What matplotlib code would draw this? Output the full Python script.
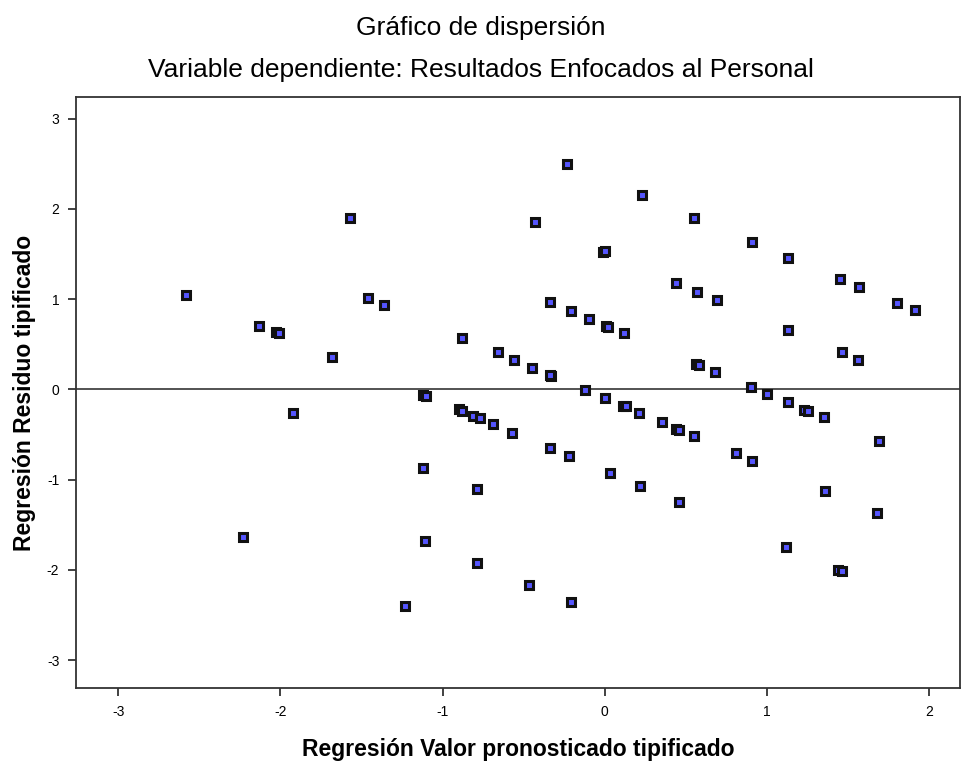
import matplotlib
matplotlib.use("Agg")
import matplotlib.pyplot as plt

plt.rcParams['font.family'] = ['Liberation Sans', 'DejaVu Sans']

title = "Gráfico de dispersión"
subtitle = "Variable dependiente: Resultados Enfocados al Personal"
xlabel = "Regresión Valor pronosticado tipificado"
ylabel = "Regresión Residuo tipificado"

pred = [-2.58, -2.23, -2.13, -2.03, -2.01, -1.92, -1.68, -1.57, -1.46, -1.36,
        -1.23, -1.12, -1.10, -1.12, -1.11, -0.88, -0.90, -0.88, -0.81, -0.77,
        -0.69, -0.66, -0.79, -0.79, -0.56, -0.57, -0.45, -0.33, -0.34, -0.47,
        -0.43, -0.34, -0.34, -0.23, -0.22, -0.21, -0.21, -0.10, -0.12, -0.01,
        0.00, 0.01, 0.02, 0.00, 0.03, 0.12, 0.11, 0.13, 0.21, 0.22,
        0.23, 0.35, 0.44, 0.44, 0.46, 0.46, 0.55, 0.57, 0.56, 0.58,
        0.55, 0.69, 0.68, 0.81, 0.90, 0.91, 0.91, 1.00, 1.13, 1.13,
        1.13, 1.12, 1.23, 1.25, 1.35, 1.36, 1.45, 1.46, 1.44, 1.46,
        1.57, 1.56, 1.69, 1.68, 1.80, 1.91]
resid = [1.05, -1.64, 0.70, 0.63, 0.62, -0.26, 0.36, 1.90, 1.01, 0.93,
         -2.40, -0.06, -0.07, -0.87, -1.68, 0.57, -0.22, -0.24, -0.29, -0.32,
         -0.38, 0.41, -1.11, -1.92, 0.32, -0.48, 0.24, 0.15, 0.16, -2.17,
         1.85, -0.65, 0.97, 2.50, -0.74, -2.36, 0.87, 0.78, -0.01, 1.52,
         1.53, 0.70, 0.69, -0.10, -0.93, 0.62, -0.18, -0.19, -0.26, -1.07,
         2.15, -0.36, 1.18, -0.44, -0.45, -1.25, 1.90, 1.08, 0.28, 0.27,
         -0.52, 0.99, 0.19, -0.71, 0.03, 1.63, -0.79, -0.05, 1.46, 0.66,
         -0.14, -1.75, -0.23, -0.24, -0.31, -1.13, 1.22, 0.41, -2.00, -2.01,
         1.13, 0.33, -0.57, -1.37, 0.96, 0.88]

xticks = [-3, -2, -1, 0, 1, 2]
yticks = [-3, -2, -1, 0, 1, 2, 3]

fig = plt.figure(figsize=(9.61, 7.64), dpi=100)
ax = fig.add_axes([76/961, 1-688/764, (960-76)/961, (688-97)/764])

ax.axhline(0, color='#444444', lw=1.3, zorder=1)
ax.plot(pred, resid, linestyle='none', marker='s', ms=5.8, mew=2.2,
        mfc='#5555ff', mec='#111111', zorder=3)

ax.set_xlim(-3.26, 2.19)
ax.set_ylim(-3.31, 3.24)
ax.set_xticks(xticks)
ax.set_yticks(yticks)
ax.set_xticklabels([str(t) for t in xticks])
ax.set_yticklabels([str(t) for t in yticks])
ax.tick_params(direction='out', length=6, width=1.3, labelsize=10, color='#333333', pad=6)
for s in ax.spines.values():
    s.set_color('#333333')
    s.set_linewidth(1.3)

ax.set_xlabel(xlabel, fontsize=16.5, fontweight='bold', labelpad=14)
ax.set_ylabel(ylabel, fontsize=16.5, fontweight='bold', labelpad=8)

fig.text(0.5, 1-28/764, title, ha='center', va='center', fontsize=19)
fig.text(0.5, 1-70/764, subtitle, ha='center', va='center', fontsize=19)

fig.savefig('out.png', dpi=100)
